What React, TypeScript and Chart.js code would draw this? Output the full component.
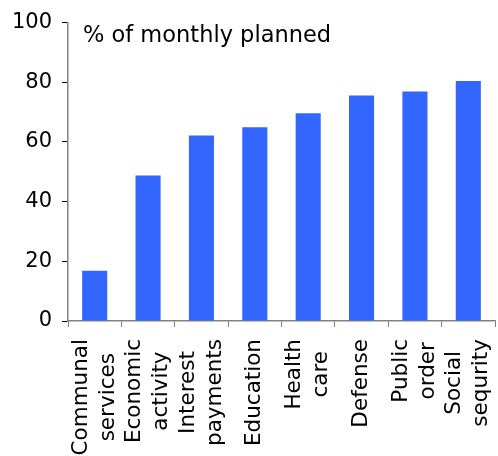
import React, { useEffect, useRef } from "react";
import { Chart, registerables } from "chart.js";

Chart.register(...registerables);

const categories: string[][] = [
  ["Communal", "services"],
  ["Economic", "activity"],
  ["Interest", "payments"],
  ["Education"],
  ["Health", "care"],
  ["Defense"],
  ["Public", "order"],
  ["Social", "sequrity"],
];
const values: number[] = [16.8, 48.8, 62.2, 64.9, 69.6, 75.6, 76.9, 80.4];
const yTicks: number[] = [0, 20, 40, 60, 80, 100];
const titleText = "% of monthly planned";

const FONT = "'DejaVu Sans', Verdana, sans-serif";

const W = 498;
const H = 456;

export default function App() {
  const ref = useRef<HTMLCanvasElement | null>(null);

  useEffect(() => {
    if (!ref.current) return;
    const labelPlugin = {
      id: "customLabels",
      afterDraw(chart: any) {
        const ctx = chart.ctx as CanvasRenderingContext2D;
        const xs = chart.scales.x;
        const area = chart.chartArea;
        ctx.save();
        ctx.fillStyle = "#000";
        ctx.font = `21.5px ${FONT}`;
        const lineGap = 27;
        const topY = area.bottom + 18;
        categories.forEach((lines, i) => {
          const cx = xs.getPixelForValue(i);
          const maxW = Math.max(...lines.map((l) => ctx.measureText(l).width));
          const cy = topY + maxW / 2;
          lines.forEach((line, j) => {
            const x = cx + (j - (lines.length - 1) / 2) * lineGap;
            ctx.save();
            ctx.translate(x, cy);
            ctx.rotate(-Math.PI / 2);
            ctx.textAlign = "center";
            ctx.textBaseline = "middle";
            ctx.fillText(line, 0, 0);
            ctx.restore();
          });
        });
        ctx.font = `22.5px ${FONT}`;
        ctx.textAlign = "left";
        ctx.textBaseline = "alphabetic";
        ctx.fillText(titleText, area.left + 15, area.top + 19);
        ctx.restore();
      },
    };

    const chart = new Chart(ref.current, {
      type: "bar",
      data: {
        labels: categories.map((c) => c.join(" ")),
        datasets: [
          {
            data: values,
            backgroundColor: "#3366FF",
            barPercentage: 0.47,
            categoryPercentage: 1,
          },
        ],
      },
      options: {
        responsive: false,
        animation: false,
        layout: { padding: { top: 22, right: 3, left: 0, bottom: 0 } },
        plugins: {
          legend: { display: false },
          tooltip: { enabled: false },
          title: { display: false },
        },
        scales: {
          x: {
            grid: {
              display: true,
              drawOnChartArea: false,
              offset: true,
              tickLength: 6,
              color: "#808080",
            },
            border: { color: "#808080", width: 1.5 },
            ticks: { display: false },
            afterFit(scale: any) {
              scale.height = H - 321;
            },
          },
          y: {
            min: 0,
            max: 100,
            afterBuildTicks(scale: any) {
              scale.ticks = yTicks.map((v) => ({ value: v }));
            },
            grid: {
              display: true,
              drawOnChartArea: false,
              tickLength: 6,
              color: "#000",
            },
            border: { color: "#808080", width: 1.5 },
            ticks: {
              color: "#000",
              font: { family: FONT, size: 21 },
              padding: 10,
            },
            afterFit(scale: any) {
              scale.width = 68;
            },
          },
        },
      },
      plugins: [labelPlugin],
    });
    return () => chart.destroy();
  }, []);

  return (
    <div style={{ position: "fixed", left: 0, top: 0, width: W, height: H, background: "#fff" }}>
      <canvas ref={ref} width={W} height={H} style={{ display: "block" }} />
    </div>
  );
}
